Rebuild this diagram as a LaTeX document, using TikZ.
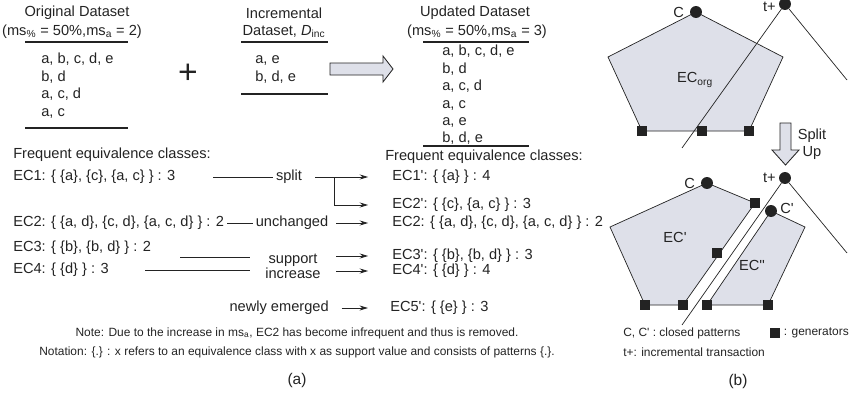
\documentclass[tikz,border=0pt]{standalone}
\usepackage{fontspec}
\setmainfont{Liberation Sans}
\usetikzlibrary{arrows.meta}
\definecolor{ecfill}{RGB}{222,224,233}
\definecolor{ink}{RGB}{35,35,35}
\newcommand{\pq}{\textquotesingle}

\begin{document}
\begin{tikzpicture}[x=0.25mm, y=-0.25mm,
  every node/.style={inner sep=2pt, text=ink, font=\fontsize{10.4}{12.4}\selectfont},
  small/.style={font=\fontsize{8.5}{10}\selectfont},
  rule/.style={draw=ink, line width=1.1pt},
  conn/.style={draw=ink, line width=0.6pt},
  trarr/.style={conn, -{Stealth[length=6pt, width=3.6pt]}, shorten >=15pt},
  blockarrow/.style={draw=ink, line width=0.6pt, fill=ecfill},
  ecshape/.style={draw=ink, line width=0.5pt, fill=ecfill},
  closed/.style={circle, fill=ink, minimum size=8.5pt, inner sep=0pt},
  generator/.style={rectangle, fill=ink, minimum size=7.8pt, inner sep=0pt}]
\useasboundingbox (0,0) rectangle (850,400);

\node (orig) at (77,13) {Original Dataset};
\node (origms) at (72,31.5) {(ms\textsubscript{\%} = 50\%,ms\textsubscript{a} = 2)};
\draw[rule] (25,42) -- (128,42);
\node[anchor=base west] (origrows) at (38.2,63.8) {\begin{tabular}[t]{@{}l@{}}
a, b, c, d, e \\
b, d \\
a, c, d \\
a, c
\end{tabular}};
\draw[rule] (25,128) -- (128,128);

\node[scale=2.3] (plus) at (188,74) {+};

\node (inc) at (284,13) {Incremental};
\node (incds) at (284,31.5) {Dataset, \textit{D}\textsubscript{inc}};
\draw[rule] (241,42) -- (328,42);
\node[anchor=base west] (incrows) at (252.2,63.8) {\begin{tabular}[t]{@{}l@{}}
a, e \\
b, d, e
\end{tabular}};
\draw[rule] (241,94) -- (328,94);

\draw[blockarrow] (330,63) -- (383,63) -- (383,56) -- (393,69) -- (383,82) -- (383,75) -- (330,75) -- cycle;

\node (upd) at (475,13) {Updated Dataset};
\node (updms) at (477,31.5) {(ms\textsubscript{\%} = 50\%,ms\textsubscript{a} = 3)};
\draw[rule] (423,42) -- (529,42);
\node[anchor=base west] (updrows) at (439.2,55.8) {\begin{tabular}[t]{@{}l@{}}
a, b, c, d, e \\
b, d \\
a, c, d \\
a, c \\
a, e \\
b, d, e
\end{tabular}};
\draw[rule] (423,146) -- (529,146);

\node[anchor=west] (freqold) at (10.2,155) {Frequent equivalence classes:};
\node[anchor=west] (ec1) at (10.2,177) {EC1: \{ \{a\}, \{c\}, \{a, c\} \} : 3};
\node[anchor=west] (ec2) at (10.2,223) {EC2: \{ \{a, d\}, \{c, d\}, \{a, c, d\} \} : 2};
\node[anchor=west] (ec3) at (10.2,248) {EC3: \{ \{b\}, \{b, d\} \} : 2};
\node[anchor=west] (ec4) at (10.2,270) {EC4: \{ \{d\} \} : 3};

\node (split) at (289,177) {split};
\node (unch) at (292,223) {unchanged};
\node[align=center, font=\fontsize{10.4}{9.5}\selectfont] (supinc) at (293,266.5) {support\\increase};
\node[anchor=east] (newly) at (331.8,308) {newly emerged};

\node[anchor=west] (freqnew) at (382.2,157) {Frequent equivalence classes:};
\node[anchor=west] (ec1n) at (389.2,177) {EC1\pq: \{ \{a\} \} : 4};
\node[anchor=west] (ec2n) at (389.2,205) {EC2\pq: \{ \{c\}, \{a, c\} \} : 3};
\node[anchor=west] (ec2k) at (389.2,223) {EC2: \{ \{a, d\}, \{c, d\}, \{a, c, d\} \} : 2};
\node[anchor=west] (ec3n) at (389.2,256) {EC3\pq: \{ \{b\}, \{b, d\} \} : 3};
\node[anchor=west] (ec4n) at (389.2,271) {EC4\pq: \{ \{d\} \} : 4};
\node[anchor=west] (ec5n) at (387.2,308) {EC5\pq: \{ \{e\} \} : 3};

\coordinate (l1) at (213,177);
\coordinate (r1) at (315,177);
\coordinate (br) at (334,177);
\coordinate (r2) at (336,223);
\coordinate (l3) at (180,257);
\coordinate (l3e) at (250,257);
\coordinate (l4) at (145,270);
\coordinate (l4e) at (250,270);
\coordinate (r3) at (336,256);
\coordinate (r4) at (336,271);

\draw[conn] (l1) -- (split) {};
\draw[trarr] (r1) -- (ec1n) {};
\draw[trarr] (br) |- (ec2n) {};
\draw[conn] (ec2) -- (unch) {};
\draw[trarr] (r2) -- (ec2k) {};
\draw[conn] (l3) -- (l3e) {};
\draw[conn] (l4) -- (l4e) {};
\draw[trarr] (r3) -- (ec3n) {};
\draw[trarr] (r4) -- (ec4n) {};
\draw[trarr, shorten <=7pt, shorten >=13.7pt] (newly) -- (ec5n) {};

\node[small] (note) at (297,333) {Note: Due to the increase in ms\textsubscript{a}, EC2 has become infrequent and thus is removed.};
\node[small] (notation) at (297,352) {Notation: \{.\} : x refers to an equivalence class with x as support value and consists of patterns \{.\}.};
\node[font=\fontsize{11}{13}\selectfont] (capa) at (297,380) {(a)};

\draw[ecshape] (696,12) -- (783,57) -- (749,131) -- (642,131) -- (608,57) -- cycle;
\node (ecorg) at (695,80) {EC\textsubscript{org}};
\coordinate (tpa) at (682,148);
\coordinate (tpb) at (847,80);
\node[closed] (tp) at (785,4) {};
\draw[conn, line width=0.5pt] (tp) -- (tpa) {};
\draw[conn, line width=0.5pt] (tp) -- (tpb) {};
\node[generator] (g1) at (642,131) {};
\node[generator] (g2) at (702,131) {};
\node[generator] (g3) at (749,131) {};
\node[closed] (c) at (696,12) {};
\node[anchor=east, xshift=-2pt] (clab) at (c.west) {C};
\node[anchor=east, yshift=-2.2pt] (tplab) at (tp.west) {t+};

\draw[blockarrow] (780,123) -- (791,123) -- (791,150) -- (799,150) -- (785.5,165) -- (772,150) -- (780,150) -- cycle;
\node[align=center] (splitup) at (812,144) {Split\\Up};

\draw[ecshape] (707,183) -- (755,203) -- (683,305) -- (645,305) -- (610,227) -- cycle;
\draw[ecshape] (771,211) -- (805,227) -- (768,305) -- (707,305) -- cycle;
\coordinate (tpc) at (682,325);
\coordinate (tpd) at (847,253);
\node[closed] (tp2) at (785,178) {};
\draw[conn, line width=0.5pt] (tp2) -- (tpc) {};
\draw[conn, line width=0.5pt] (tp2) -- (tpd) {};
\node[closed] (c2) at (707,183) {};
\node[anchor=east, xshift=-2pt] (c2lab) at (c2.west) {C};
\node[anchor=east] (tp2lab) at (tp2.west) {t+};
\node[closed] (cp) at (771,211) {};
\node[anchor=west, yshift=2pt] (cplab) at (cp.east) {C\pq};
\node[generator] (h1) at (645,305) {};
\node[generator] (h2) at (683,305) {};
\node[generator] (h3) at (717,253) {};
\node[generator] (h4) at (755,203) {};
\node[generator] (h5) at (707,305) {};
\node[generator] (h6) at (768,305) {};
\node (ecl) at (675,237) {EC\pq};
\node (ecr) at (752,265) {EC\pq\pq};

\node[small, anchor=west] (legc) at (620.2,333) {C, C\pq{} : closed patterns};
\node[small, anchor=west] (legt) at (620.2,352) {t+: incremental transaction};
\node[generator] (legg) at (775,333) {};
\node[small, anchor=west] (leggen) at (legg.east) {: generators};
\node[font=\fontsize{11}{13}\selectfont] (capb) at (738,381) {(b)};
\end{tikzpicture}
\end{document}
